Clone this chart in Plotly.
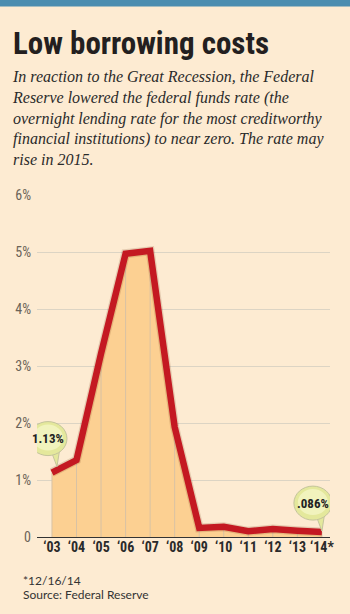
import plotly.graph_objects as go

years = [2003, 2004, 2005, 2006, 2007, 2008, 2009, 2010, 2011, 2012, 2013, 2014]
year_labels = ["‘03", "‘04", "‘05", "‘06", "‘07", "‘08", "‘09", "‘10", "‘11", "‘12", "‘13", "‘14*"]
rates = [1.13, 1.35, 3.22, 4.97, 5.02, 1.93, 0.16, 0.18, 0.10, 0.14, 0.11, 0.086]
y_ticks = [0, 1, 2, 3, 4, 5, 6]
y_tick_labels = ["0", "1%", "2%", "3%", "4%", "5%", "6%"]
callout_idx = [0, 11]
callout_text = ["1.13%", ".086%"]

BG = "#fdebd2"
FILL = "#fcd092"
RED = "#c41922"
COND = "Roboto Condensed, DejaVu Sans Condensed, sans-serif"

# plot-area geometry (pixels)
L, R, T, B = 37, 20, 195, 77
H = 614 - T - B
W = 350 - L - R


def py(pix):
    """paper y from pixel row"""
    return (614 - B - pix) / H


def px(pix):
    return (pix - L) / W


fig = go.Figure()

dx, dy = [], []
for x, y in zip(years, rates):
    dx += [x, x, None]
    dy += [0, y, None]

fig.add_trace(go.Scatter(x=years, y=rates, mode="lines", fill="tozeroy",
                         fillcolor=FILL, line=dict(width=0), hoverinfo="skip"))
fig.add_trace(go.Scatter(x=dx, y=dy, mode="lines", line=dict(color="#d8c2a4", width=1),
                         hoverinfo="skip"))
# soft shadow under the line
fig.add_trace(go.Scatter(x=years, y=rates, mode="lines",
                         line=dict(color="rgba(120,60,20,0.18)", width=9), hoverinfo="skip"))
fig.add_trace(go.Scatter(x=years, y=rates, mode="lines",
                         line=dict(color=RED, width=6.5), hoverinfo="skip"))

shapes = []
annotations = []

offsets = [(-4, 34), (-9, 29)]
for i, txt, (ox, oy) in zip(callout_idx, callout_text, offsets):
    x, y = years[i], rates[i]
    shapes.append(dict(type="path", xref="x", yref="y", xsizemode="pixel", ysizemode="pixel",
                       xanchor=x, yanchor=y,
                       path=f"M {ox+3},{oy-12} L {ox+9},{oy-28} L {ox+12},{oy-9} Z",
                       fillcolor="#e4e89c", line=dict(color="#c4c49c", width=1), layer="above"))
    shapes.append(dict(type="circle", xref="x", yref="y", xsizemode="pixel", ysizemode="pixel",
                       xanchor=x, yanchor=y, x0=ox - 19, x1=ox + 19, y0=oy - 17, y1=oy + 17,
                       fillcolor="#e4e89c", line=dict(color="#c4c49c", width=1), layer="above"))
    shapes.append(dict(type="circle", xref="x", yref="y", xsizemode="pixel", ysizemode="pixel",
                       xanchor=x, yanchor=y, x0=ox - 15, x1=ox + 15, y0=oy - 12, y1=oy + 14,
                       fillcolor="#f1f3bd", line=dict(width=0), layer="above"))
    annotations.append(dict(x=x, y=y, xref="x", yref="y", text=txt, showarrow=False,
                            xshift=ox, yshift=oy,
                            font=dict(family=COND, size=13, color="#222", weight="bold")))

# top blue band
shapes.append(dict(type="rect", xref="paper", yref="paper", x0=-0.2, x1=1.2,
                   y0=py(6.5), y1=py(-2), fillcolor="#4b8db0", line=dict(width=0),
                   layer="above"))

annotations.append(dict(xref="paper", yref="paper", x=px(11), y=py(43),
                        xanchor="left", yanchor="middle", showarrow=False,
                        text="<b>Low borrowing costs</b>",
                        font=dict(family=COND, size=31, color="#231f20")))
annotations.append(dict(xref="paper", yref="paper", x=px(10), y=py(118),
                        xanchor="left", yanchor="middle", showarrow=False, align="left",
                        text=("In reaction to the Great Recession, the Federal<br>"
                              "Reserve lowered the federal funds rate (the<br>"
                              "overnight lending rate for the most creditworthy<br>"
                              "financial institutions) to near zero. The rate may<br>"
                              "rise in 2015."),
                        font=dict(family="Liberation Serif, serif", size=16, color="#2a2a2a",
                                  style="italic")))
annotations.append(dict(xref="paper", yref="paper", x=px(21), y=py(580),
                        xanchor="left", yanchor="middle", showarrow=False,
                        text="*12/16/14",
                        font=dict(family="Lato, sans-serif", size=12, color="#333")))
annotations.append(dict(xref="paper", yref="paper", x=px(21), y=py(594),
                        xanchor="left", yanchor="middle", showarrow=False,
                        text="Source: Federal Reserve",
                        font=dict(family="Lato, sans-serif", size=12, color="#333")))

fig.update_layout(
    width=350, height=614,
    margin=dict(l=L, r=R, t=T, b=B, pad=0),
    paper_bgcolor=BG, plot_bgcolor=BG,
    showlegend=False,
    shapes=shapes, annotations=annotations,
    xaxis=dict(range=[2002.39, 2014.33], tickmode="array", tickvals=years, ticktext=year_labels,
               showgrid=False, zeroline=False, showline=False, ticks="", tickangle=0,
               tickfont=dict(family=COND, size=14, color="#2a2a2a", weight="bold"),
               fixedrange=True),
    yaxis=dict(range=[0, 6], tickmode="array", tickvals=y_ticks, ticktext=y_tick_labels,
               showgrid=True, gridcolor="#dcd4c4", gridwidth=1.2, zeroline=True,
               zerolinecolor="#333", zerolinewidth=1.3, showline=False, ticks="",
               ticklabelstandoff=5,
               tickfont=dict(family=COND, size=14, color="#6b6358"), fixedrange=True),
)

fig.write_html("out.html")
